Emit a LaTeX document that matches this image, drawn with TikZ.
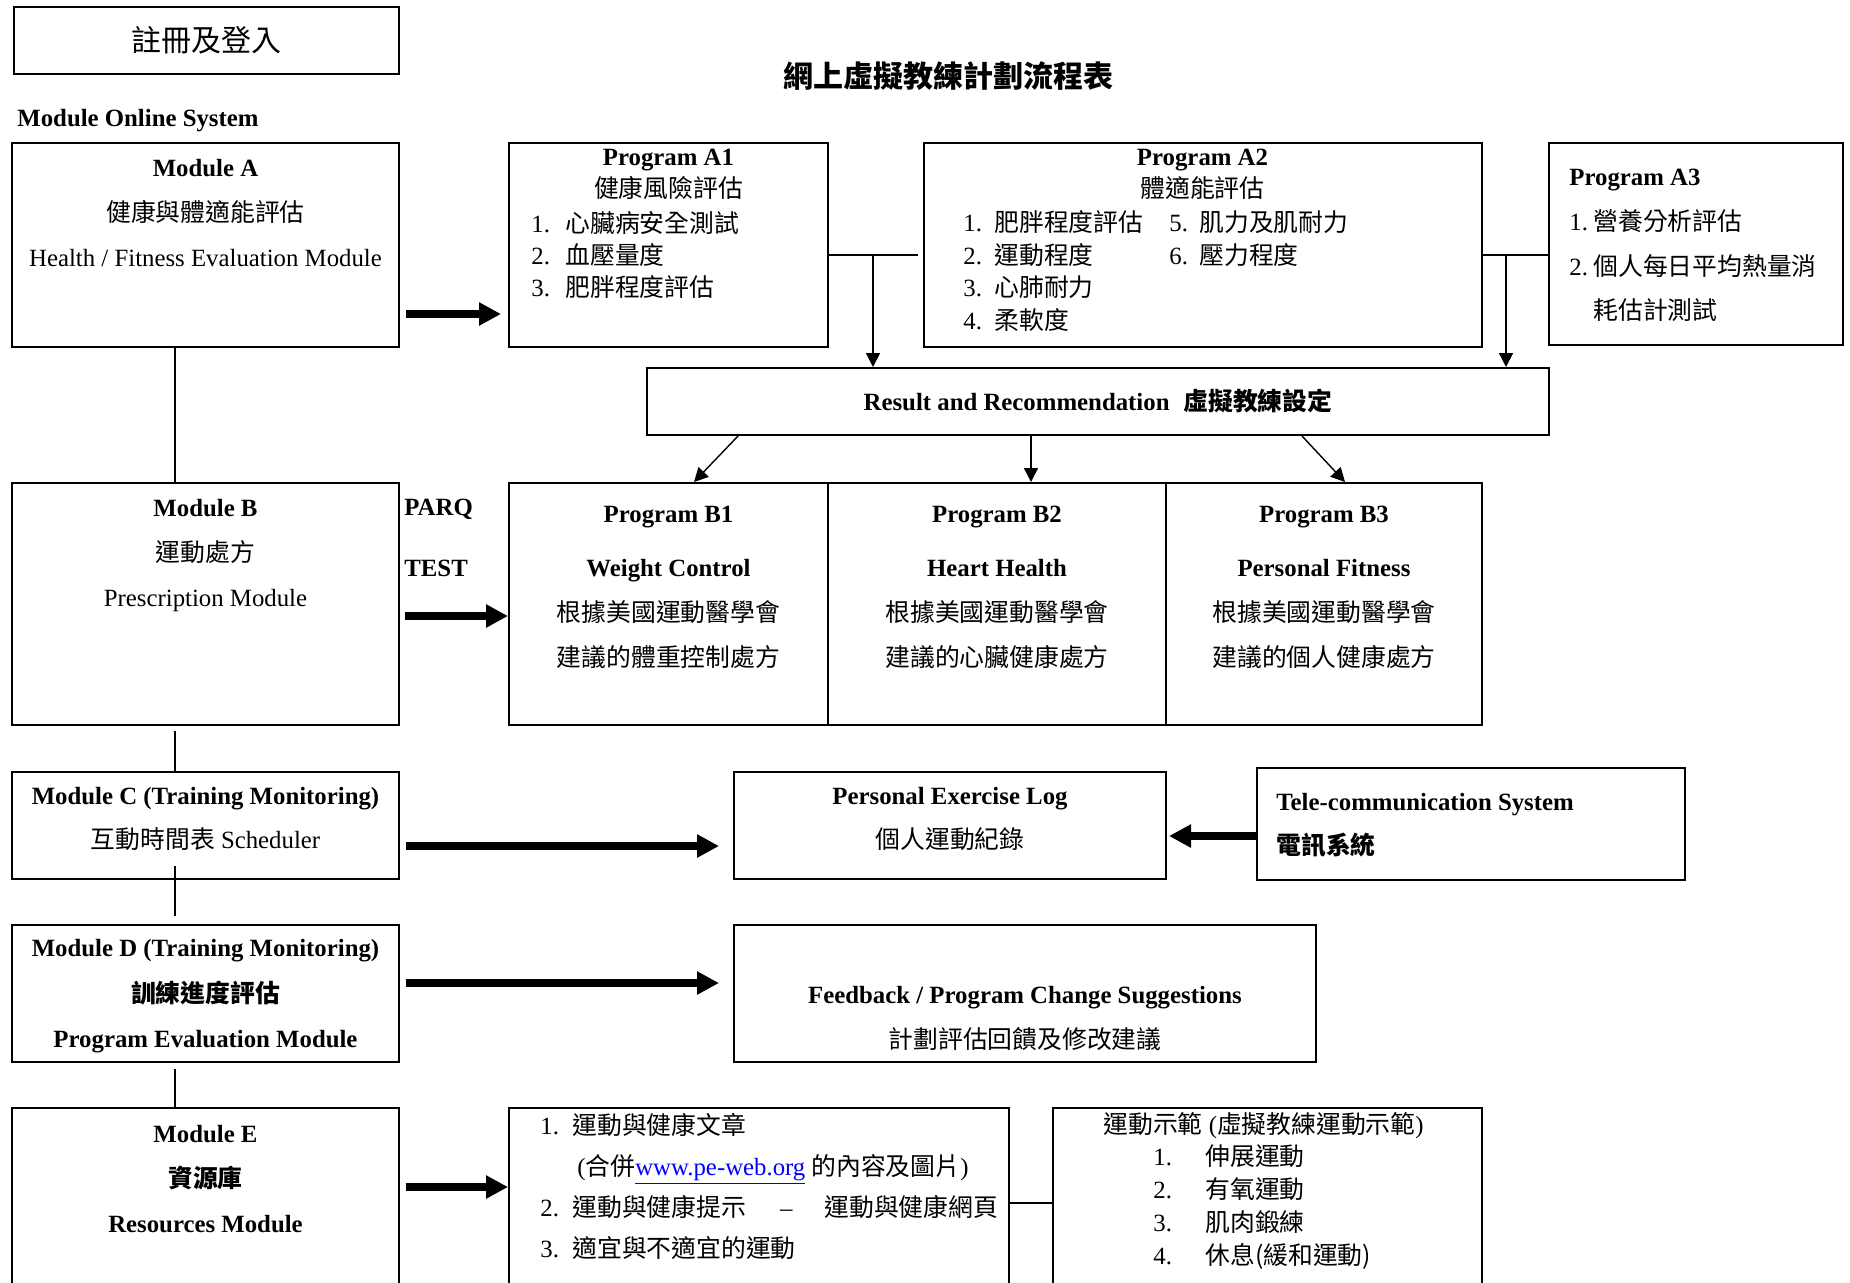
\documentclass[tikz,border=0pt]{standalone}
\usepackage{fontspec}
\setmainfont{Liberation Serif}
\newfontfamily\cjk{Noto Sans CJK TC}
\usetikzlibrary{arrows.meta}
\usetikzlibrary{calc}
\usetikzlibrary{fit}

\newcommand{\zh}[1]{{\cjk #1}}

\begin{document}
\begin{tikzpicture}[x=0.5pt,y=-0.5pt,
  box/.style={draw, line width=1pt, inner sep=0pt},
  txt/.style={inner sep=0pt, align=center, font=\fontsize{12.4}{22.5}\selectfont},
  tighttxt/.style={txt, font=\fontsize{12.4}{16.2}\selectfont},
  lst/.style={txt, align=left, anchor=west},
  conn/.style={line width=0.7pt},
  thinarrow/.style={line width=0.7pt, -{Triangle[length=7pt,width=7pt]}},
  bigarrow/.style={line width=3.8pt, -{Triangle[length=11pt,width=11pt]}}]

\useasboundingbox (0,0) rectangle (1850,1282);
\clip (0,0) rectangle (1850,1282);

%\draw[very thin,color=lightgray,step=100] (0,0) grid (1850,1282);

\node[box, fit={(14,7) (399,74)}] (reg) {};
\node[inner sep=0pt, font=\fontsize{15}{18}\selectfont] (regtxt) at (206.5,40) {\zh{註冊及登入}};
\node[inner sep=0pt, font=\fontsize{15}{18}\selectfont\bfseries] (title) at (948,76) {\zh{網上虛擬教練計劃流程表}};
\node[txt, anchor=west, font=\fontsize{12.4}{15}\selectfont\bfseries] (sys) at (17,121) {Module Online System};

% boxes
\node[box, fit={(12,143) (399,347)}] (modA) {};
\node[box, fit={(509,143) (828,347)}] (progA1) {};
\node[box, fit={(924,143) (1482,347)}] (progA2) {};
\node[box, fit={(1549,143) (1843,345)}] (progA3) {};
\node[box, fit={(647,368) (1549,435)}] (result) {};
\node[txt, font=\fontsize{12.4}{15}\selectfont\bfseries] (resulttxt) at (1098,401) {Result and Recommendation\hspace{7pt}\zh{虛擬教練設定}};

\node[box, fit={(12,483) (399,725)}] (modB) {};
\node[box, fit={(509,483) (828,725)}] (progB1) {};
\node[box, fit={(828,483) (1166,725)}] (progB2) {};
\node[box, fit={(1166,483) (1482,725)}] (progB3) {};

\node[box, fit={(12,772) (399,879)}] (modC) {};
\node[box, fit={(734,772) (1166,879)}] (log) {};
\node[box, fit={(1257,768) (1685,880)}] (tele) {};

\node[box, fit={(12,925) (399,1062)}] (modD) {};
\node[box, fit={(734,925) (1316,1062)}] (feedback) {};

\node[box, fit={(12,1108) (399,1300)}] (modE) {};
\node[box, fit={(509,1108) (1009,1300)}] (res) {};
\node[box, fit={(1053,1108) (1482,1300)}] (demo) {};

% texts
\node[txt] (modAtxt) at (205.5,213.5) {\textbf{Module A}\\ \zh{健康與體適能評估}\\ Health / Fitness Evaluation Module};

\node[tighttxt] (progA1head) at (668.5,174.5) {\textbf{Program A1}\\ \zh{健康風險評估}};
\node[tighttxt, align=left, anchor=west] (progA1list) at (531,255) {\makebox[17pt][l]{1.}\zh{心臟病安全測試}\\
  \makebox[17pt][l]{2.}\zh{血壓量度}\\
  \makebox[17pt][l]{3.}\zh{肥胖程度評估}};

\node[tighttxt] (progA2head) at (1202.5,174.5) {\textbf{Program A2}\\ \zh{體適能評估}};
\node[tighttxt, align=left, anchor=west] (progA2list) at (963,271) {\makebox[103pt][l]{\makebox[15.5pt][l]{1.}\zh{肥胖程度評估}}\makebox[15pt][l]{5.}\zh{肌力及肌耐力}\\
  \makebox[103pt][l]{\makebox[15.5pt][l]{2.}\zh{運動程度}}\makebox[15pt][l]{6.}\zh{壓力程度}\\
  \makebox[15.5pt][l]{3.}\zh{心肺耐力}\\
  \makebox[15.5pt][l]{4.}\zh{柔軟度}};

\node[lst, font=\fontsize{12.4}{22.4}\selectfont] (progA3txt) at (1569,245.5) {\textbf{Program A3}\\
  \makebox[12pt][l]{1.}\zh{營養分析評估}\\
  \makebox[12pt][l]{2.}\zh{個人每日平均熱量消}\\
  \hspace*{12pt}\zh{耗估計測試}};

\node[txt] (modBtxt) at (205.5,555.5) {\textbf{Module B}\\ \zh{運動處方}\\ Prescription Module};
\node[lst, font=\fontsize{12.4}{15}\selectfont\bfseries] (parq) at (404,509) {PARQ};
\node[lst, font=\fontsize{12.4}{15}\selectfont\bfseries] (test) at (404,568) {TEST};

\node[txt] (progB1txt) at (668.5,587.5) {\textbf{Program B1}\\[4.5pt] \textbf{Weight Control}\\ \zh{根據美國運動醫學會}\\ \zh{建議的體重控制處方}};
\node[txt] (progB2txt) at (997,587.5) {\textbf{Program B2}\\[4.5pt] \textbf{Heart Health}\\ \zh{根據美國運動醫學會}\\ \zh{建議的心臟健康處方}};
\node[txt] (progB3txt) at (1324,587.5) {\textbf{Program B3}\\[4.5pt] \textbf{Personal Fitness}\\ \zh{根據美國運動醫學會}\\ \zh{建議的個人健康處方}};

\node[txt, font=\fontsize{12.4}{22}\selectfont] (modCtxt) at (205.5,819) {\textbf{Module C (Training Monitoring)}\\ \zh{互動時間表} Scheduler};
\node[txt, font=\fontsize{12.4}{22}\selectfont] (logtxt) at (950,819) {\textbf{Personal Exercise Log}\\ \zh{個人運動紀錄}};
\node[lst, font=\fontsize{12.4}{22}\selectfont\bfseries] (teletxt) at (1276,825) {Tele-communication System\\ \zh{電訊系統}};

\node[txt, font=\fontsize{12.4}{22.75}\selectfont\bfseries] (modDtxt) at (205.5,996.5) {Module D (Training Monitoring)\\ \zh{訓練進度評估}\\ Program Evaluation Module};
\node[txt, font=\fontsize{12.4}{22.5}\selectfont] (feedbacktxt) at (1025,1018) {\textbf{Feedback / Program Change Suggestions}\\ \zh{計劃評估回饋及修改建議}};

\node[txt, font=\fontsize{12.4}{22.5}\selectfont\bfseries] (modEtxt) at (205.5,1179) {Module E\\ \zh{資源庫}\\ Resources Module};
\node[lst, font=\fontsize{12.4}{20.5}\selectfont] (restxt) at (540,1186.5) {\makebox[16pt][l]{1.}\zh{運動與健康文章}\\
  \hspace*{18.5pt}(\zh{合併}\textcolor{blue}{\underline{www.pe-web.org}}\ \zh{的內容及圖片})\\
  \makebox[16pt][l]{2.}\zh{運動與健康提示}\hspace{17pt}--\hspace{16pt}\zh{運動與健康網頁}\\
  \makebox[16pt][l]{3.}\zh{適宜與不適宜的運動}};
\node[lst, font=\fontsize{12.4}{16.4}\selectfont] (demotxt) at (1103,1190.5) {\zh{運動示範} (\zh{虛擬教練運動示範})\\
  \hspace*{25pt}\makebox[26pt][l]{1.}\zh{伸展運動}\\
  \hspace*{25pt}\makebox[26pt][l]{2.}\zh{有氧運動}\\
  \hspace*{25pt}\makebox[26pt][l]{3.}\zh{肌肉鍛練}\\
  \hspace*{25pt}\makebox[26pt][l]{4.}\zh{休息(緩和運動)}};

% A row to result
\coordinate (jA) at (873,255);
\coordinate (jB) at (1506,255);
\draw[conn] (progA1.east |- jA) -- ($(progA2.west |- jA)+(-5,0)$);
\draw[thinarrow] (jA) -- (result.north -| jA);
\draw[conn] (progA2.east |- jB) -- (progA3.west |- jB);
\draw[thinarrow] (jB) -- (result.north -| jB);

\draw[thinarrow] (result.south -| 738,0) -- (progB1.north -| 694,0);
\draw[thinarrow] (result.south -| 1031,0) -- (progB2.north -| 1031,0);
\draw[thinarrow] (result.south -| 1302,0) -- (progB3.north -| 1345,0);

% left spine
\coordinate (spine) at (175,0);
\draw[conn] (modA.south -| spine) -- (modB.north -| spine);
\draw[conn] ($(modB.south -| spine)+(0,5)$) -- (modC.north -| spine);
\draw[conn] ($(modC.south -| spine)+(0,-14)$) -- ($(modD.north -| spine)+(0,-8)$);
\draw[conn] ($(modD.south -| spine)+(0,6)$) -- (modE.north -| spine);

% thick arrows
\draw[bigarrow] ($(modA.east |- 0,314)+(6,0)$) -- ($(progA1.west |- 0,314)+(-7,0)$);
\draw[bigarrow] ($(modB.east |- 0,616)+(5,0)$) -- (progB1.west |- 0,616);
\draw[bigarrow] ($(modC.east |- 0,846)+(6,0)$) -- ($(log.west |- 0,846)+(-14,0)$);
\draw[bigarrow] (tele.west |- 0,836) -- ($(log.east |- 0,836)+(2,0)$);
\draw[bigarrow] ($(modD.east |- 0,983)+(6,0)$) -- ($(feedback.west |- 0,983)+(-14,0)$);
\draw[bigarrow] ($(modE.east |- 0,1187)+(6,0)$) -- (res.west |- 0,1187);

\draw[conn] (res.east |- 0,1203) -- (demo.west |- 0,1203);

\end{tikzpicture}
\end{document}
